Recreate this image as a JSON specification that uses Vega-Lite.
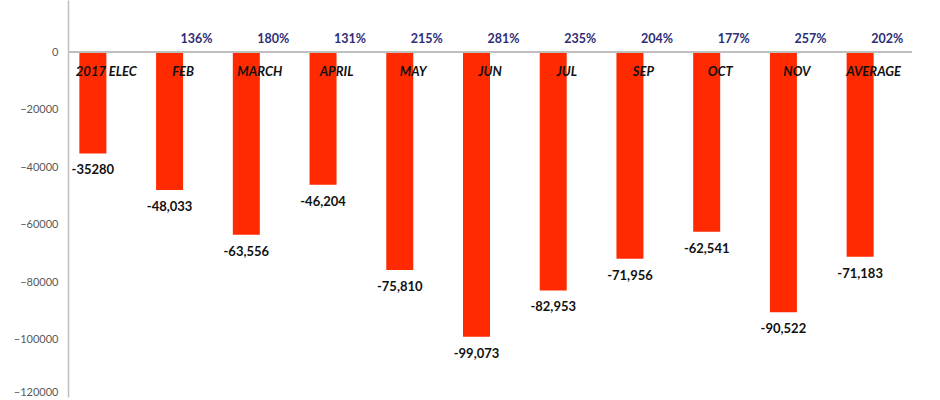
{
  "$schema": "https://vega.github.io/schema/vega-lite/v6.json",
  "width": 844,
  "height": 397,
  "autosize": {"type": "none"},
  "padding": {"left": 68, "top": 0, "right": 28, "bottom": 3},
  "config": {"view": {"stroke": null}, "font": "Lato"},
  "data": {
    "values": [
      {"category": "2017 ELEC", "value": -35280, "label": "-35280", "pct": ""},
      {"category": "FEB", "value": -48033, "label": "-48,033", "pct": "136%"},
      {"category": "MARCH", "value": -63556, "label": "-63,556", "pct": "180%"},
      {"category": "APRIL", "value": -46204, "label": "-46,204", "pct": "131%"},
      {"category": "MAY", "value": -75810, "label": "-75,810", "pct": "215%"},
      {"category": "JUN", "value": -99073, "label": "-99,073", "pct": "281%"},
      {"category": "JUL", "value": -82953, "label": "-82,953", "pct": "235%"},
      {"category": "SEP", "value": -71956, "label": "-71,956", "pct": "204%"},
      {"category": "OCT", "value": -62541, "label": "-62,541", "pct": "177%"},
      {"category": "NOV", "value": -90522, "label": "-90,522", "pct": "257%"},
      {"category": "AVERAGE", "value": -71183, "label": "-71,183", "pct": "202%"}
    ]
  },
  "encoding": {
    "x": {
      "field": "category",
      "type": "nominal",
      "sort": null,
      "scale": {"paddingInner": 0, "paddingOuter": 0},
      "axis": null
    }
  },
  "layer": [
    {
      "mark": {"type": "bar", "color": "#ff2a00", "width": 27, "xOffset": -13.5},
      "encoding": {
        "y": {
          "field": "value",
          "type": "quantitative",
          "scale": {"domain": [-120000, 18087], "nice": false, "zero": false},
          "axis": {
            "title": null,
            "values": [0, -20000, -40000, -60000, -80000, -100000, -120000],
            "format": "d",
            "grid": false,
            "ticks": false,
            "labelPadding": 10,
            "labelFlush": true,
            "labelColor": "#595959",
            "labelFontSize": 11,
            "labelFont": "Lato",
            "domainColor": "#bfbfbf",
            "domainWidth": 1.5
          }
        }
      }
    },
    {
      "mark": {"type": "rule", "color": "#bfbfbf", "strokeWidth": 2},
      "encoding": {"y": {"datum": 0, "type": "quantitative"}, "x": null}
    },
    {
      "mark": {"type": "text", "fontWeight": "bold", "fontStyle": "italic", "fontSize": 13, "color": "#111111", "baseline": "middle", "dy": 20},
      "encoding": {"y": {"datum": 0, "type": "quantitative"}, "text": {"field": "category"}}
    },
    {
      "mark": {"type": "text", "fontWeight": "bold", "fontSize": 12.5, "color": "#2e2e78", "baseline": "middle", "dy": -13, "xOffset": 13.5},
      "encoding": {"y": {"datum": 0, "type": "quantitative"}, "text": {"field": "pct"}}
    },
    {
      "mark": {"type": "text", "fontWeight": "bold", "fontSize": 13, "color": "#111111", "baseline": "top", "dy": 11, "xOffset": -13.5},
      "encoding": {"y": {"field": "value", "type": "quantitative"}, "text": {"field": "label"}}
    }
  ]
}
